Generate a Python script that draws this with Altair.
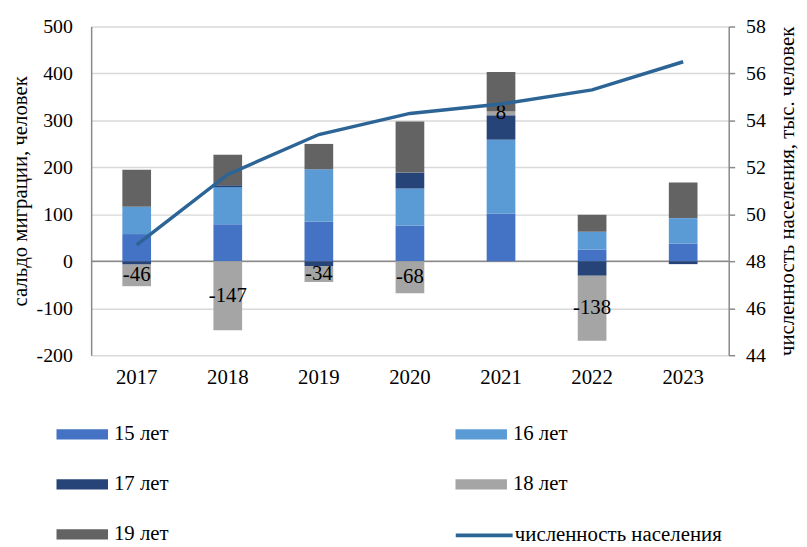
import altair as alt
import pandas as pd

FONT = "Liberation Serif, Times New Roman, serif"

years = ["2017", "2018", "2019", "2020", "2021", "2022", "2023"]
groups = ["15 лет", "16 лет", "17 лет", "18 лет", "19 лет"]
v15 = [58, 79, 85, 76, 102, 25, 38]
v16 = [58, 79, 111, 79, 157, 38, 54]
v17 = [-7, 4, -10, 34, 52, -31, -6]
v18 = [-46, -147, -34, -68, 8, -138, 0]
v19 = [79, 65, 54, 109, 84, 36, 76]
population = [48.7, 51.7, 53.4, 54.3, 54.7, 55.3, 56.5]
line_name = "численность населения"

colors = ["#4472C4", "#5B9BD5", "#264478", "#A5A5A5", "#636363"]
line_color = "#2C6496"

series = [v15, v16, v17, v18, v19]
rows = []
for i, yr in enumerate(years):
    pos, neg = 0, 0
    for g, vals in zip(groups, series):
        v = vals[i]
        if v == 0:
            continue
        if v > 0:
            y0, y1 = pos, pos + v
            pos += v
        else:
            y0, y1 = neg, neg + v
            neg += v
        rows.append(dict(year=yr, group=g, value=v, y0=y0, y1=y1, ymid=(y0 + y1) / 2))
bars_df = pd.DataFrame(rows)
labels_df = bars_df[bars_df["group"] == "18 лет"].copy()
labels_df["label"] = labels_df["value"].astype(int).astype(str)
pop_df = pd.DataFrame({"year": years, "pop": population, "series": [line_name] * len(years)})

x_enc = alt.X(
    "year:N", sort=years,
    scale=alt.Scale(paddingInner=0.685, paddingOuter=0.3425),
    axis=alt.Axis(title=None, domain=False, ticks=False, labelFontSize=21, labelPadding=12,
                  labelAngle=0, labelFont=FONT, labelColor="black", grid=False),
)

left_title = "сальдо миграции, человек"
left_scale = alt.Scale(domain=[-200, 500], nice=False)
left_axis = alt.Axis(
    title=left_title, values=list(range(-200, 501, 100)), grid=True, gridColor="#D9D9D9",
    gridWidth=1.5, domainColor="#898989", domainWidth=1.5, ticks=False, tickSize=0,
    labelPadding=19, labelFontSize=20, labelFont=FONT, labelColor="black",
    labelExpr="'' + datum.value",
    titleFont=FONT, titleFontSize=21, titleFontWeight="normal", titleColor="black",
    titlePadding=6,
)

zero_rule = alt.Chart(pd.DataFrame({"z": [0]})).mark_rule(color="#898989", strokeWidth=1.5).encode(
    y=alt.Y("z:Q", scale=left_scale, axis=left_axis),
)

bars = alt.Chart(bars_df).mark_bar().encode(
    x=x_enc,
    y=alt.Y("y0:Q", scale=left_scale, axis=left_axis),
    y2="y1:Q",
    fill=alt.Fill(
        "group:N", sort=groups,
        scale=alt.Scale(domain=groups, range=colors),
        legend=alt.Legend(
            title=None, orient="none", legendX=-35, legendY=386, columns=2,
            direction="horizontal",
            columnPadding=289, rowPadding=14.5,
            symbolType="M-1,-0.2H1V0.2H-1Z", symbolSize=2704, symbolStrokeWidth=0,
            labelFontSize=21, labelFont=FONT, labelColor="black", labelOffset=6,
        ),
    ),
)

texts = alt.Chart(labels_df).mark_text(font=FONT, fontSize=21, color="black", baseline="middle", align="center").encode(
    x=x_enc,
    y=alt.Y("ymid:Q", scale=left_scale, axis=left_axis),
    text="label:N",
)

left = alt.layer(zero_rule, bars, texts)

line = alt.Chart(pop_df).mark_line(strokeWidth=3.5).encode(
    x=x_enc,
    y=alt.Y(
        "pop:Q",
        scale=alt.Scale(domain=[44, 58], nice=False, zero=False),
        axis=alt.Axis(
            orient="right", title="численность населения, тыс. человек",
            values=list(range(44, 59, 2)), grid=False,
            domainColor="#898989", domainWidth=1.5, tickColor="#898989", tickWidth=1.5, tickSize=6,
            labelPadding=11, labelFontSize=20, labelFont=FONT, labelColor="black",
            titleFont=FONT, titleFontSize=21, titleFontWeight="normal", titleColor="black",
            titleAngle=270, titleBaseline="top", titlePadding=11,
        ),
    ),
    stroke=alt.Stroke(
        "series:N",
        scale=alt.Scale(domain=[line_name], range=[line_color]),
        legend=alt.Legend(
            title=None, orient="none", legendX=366, legendY=483,
            symbolType="stroke", symbolSize=3300, symbolStrokeWidth=4,
            labelFontSize=21, labelFont=FONT, labelColor="black", labelOffset=0,
            labelLimit=400,
        ),
    ),
)

chart = alt.layer(left, line).resolve_scale(y="independent", fill="independent", stroke="independent").properties(
    width=644, height=332,
    autosize=alt.AutoSizeParams(type="none"),
    padding={"left": 84, "top": 16, "right": 71, "bottom": 191},
).configure_view(stroke=None)

chart.save("out.html", embed_options={"renderer": "svg", "actions": False})
